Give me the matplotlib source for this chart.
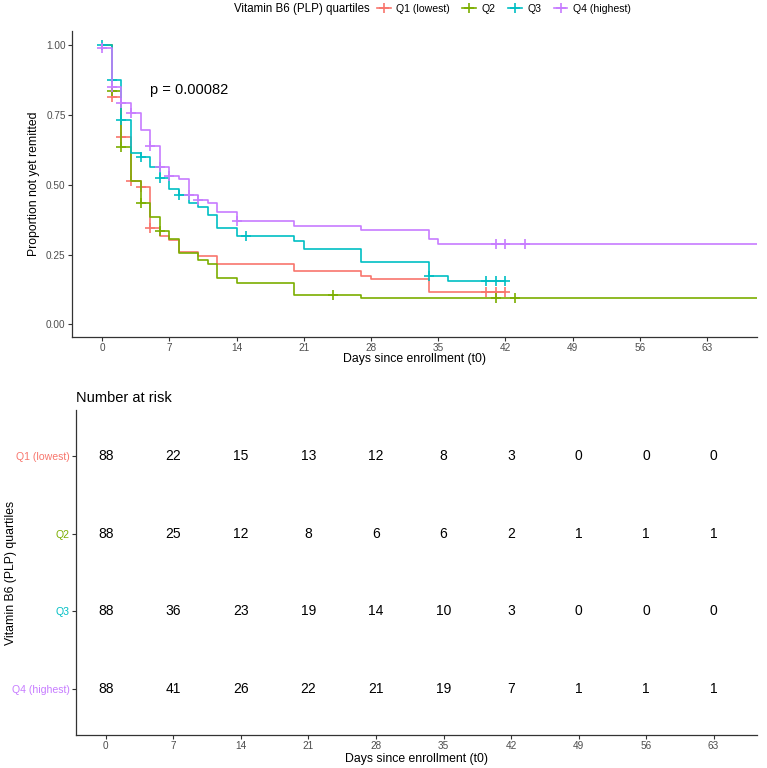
import numpy as np
import matplotlib
matplotlib.use("Agg")
import matplotlib.pyplot as plt
from matplotlib.lines import Line2D

plt.rcParams['font.family'] = ['Liberation Sans', 'DejaVu Sans']

# groups and colours (ggplot default hue)
groups = ['Q1 (lowest)', 'Q2', 'Q3', 'Q4 (highest)']
colors = ['#F8766D', '#7CAE00', '#00BFC4', '#C77CFF']

# Kaplan-Meier steps: event times and survival after each step
q1_times = [1, 2, 3, 4, 5, 6, 7, 8, 10, 12, 20, 27, 28, 34]
q1_surv = [0.813, 0.672, 0.513, 0.493, 0.344, 0.316, 0.302, 0.260, 0.246, 0.218, 0.191, 0.174, 0.162, 0.117]
q1_cens = [1, 2, 3, 4, 5, 40, 41, 42]
q1_end = 42

q2_times = [1, 2, 3, 4, 5, 6, 7, 8, 10, 11, 12, 14, 20, 27]
q2_surv = [0.837, 0.636, 0.514, 0.435, 0.385, 0.335, 0.305, 0.256, 0.230, 0.216, 0.165, 0.149, 0.107, 0.093]
q2_cens = [1, 2, 4, 6, 24, 41, 43]
q2_end = 68.2

q3_times = [1, 2, 3, 4, 5, 6, 7, 8, 9, 10, 11, 12, 14, 20, 21, 27, 34, 36]
q3_surv = [0.875, 0.731, 0.612, 0.600, 0.564, 0.523, 0.483, 0.463, 0.435, 0.419, 0.391, 0.344, 0.316,
           0.300, 0.270, 0.222, 0.173, 0.157]
q3_cens = [0, 1, 2, 4, 6, 8, 15, 34, 40, 41, 42]
q3_end = 42

q4_times = [0, 1, 2, 3, 4, 5, 6, 7, 8, 9, 10, 11, 12, 14, 20, 27, 34, 35]
q4_surv = [0.989, 0.851, 0.793, 0.755, 0.696, 0.638, 0.562, 0.532, 0.519, 0.463, 0.447, 0.433, 0.401,
           0.371, 0.353, 0.338, 0.304, 0.289]
q4_cens = [0, 1, 2, 3, 5, 6, 7, 9, 10, 14, 41, 42, 44]
q4_end = 68.2

p_text = 'p = 0.00082'

# number at risk table
risk_times = [0, 7, 14, 21, 28, 35, 42, 49, 56, 63]
q1_risk = [88, 22, 15, 13, 12, 8, 3, 0, 0, 0]
q2_risk = [88, 25, 12, 8, 6, 6, 2, 1, 1, 1]
q3_risk = [88, 36, 23, 19, 14, 10, 3, 0, 0, 0]
q4_risk = [88, 41, 26, 22, 21, 19, 7, 1, 1, 1]

curves = [
    (q1_times, q1_surv, q1_cens, q1_end),
    (q2_times, q2_surv, q2_cens, q2_end),
    (q3_times, q3_surv, q3_cens, q3_end),
    (q4_times, q4_surv, q4_cens, q4_end),
]
risks = [q1_risk, q2_risk, q3_risk, q4_risk]

tick_grey = '#4D4D4D'
W, H = 767, 768
fig = plt.figure(figsize=(W / 100, H / 100), dpi=100)


def style_axes(ax):
    for s in ['top', 'right']:
        ax.spines[s].set_visible(False)
    for s in ['left', 'bottom']:
        ax.spines[s].set_color('#333333')
        ax.spines[s].set_linewidth(0.9)
    ax.tick_params(length=3, width=0.8, color='#333333', labelsize=7.2, labelcolor=tick_grey, pad=1.5)


# --- survival curves ---
ax = fig.add_axes([72 / W, 1 - 337 / H, (757 - 72) / W, (337 - 31) / H])
for (t, s, c, end), col in zip(curves, colors):
    x = [0] + list(t) + [end]
    y = [1.0] + list(s) + [s[-1]]
    ax.step(x, y, where='post', color=col, lw=1.2)
    idx = np.searchsorted(t, c, side='right') - 1
    cy = np.where(idx < 0, 1.0, np.array(s)[np.clip(idx, 0, None)])
    ax.plot(c, cy, ls='none', marker='+', ms=7, mew=1.2, color=col)

ax.set_xlim(-3.15, 68.2)
ax.set_ylim(-0.045, 1.05)
ax.set_xticks(risk_times)
ax.set_yticks([0, 0.25, 0.5, 0.75, 1.0])
ax.set_yticklabels(['0.00', '0.25', '0.50', '0.75', '1.00'])
style_axes(ax)
ax.set_xlabel('Days since enrollment (t0)', fontsize=8.8, labelpad=0)
ax.set_ylabel('Proportion not yet remitted', fontsize=8.8)
ax.yaxis.set_label_coords(-0.046, 0.5)
ax.text(5, 0.84, p_text, fontsize=10.5, ha='left', va='center')

# legend on top
fig.text(370 / W, 1 - 9 / H, 'Vitamin B6 (PLP) quartiles', fontsize=8.3, ha='right', va='center')
handles = [Line2D([], [], color=col, marker='+', ms=7, mew=1.2, lw=1.2) for col in colors]
fig.legend(handles, groups, loc='center left', bbox_to_anchor=(377 / W, 1 - 9 / H), ncol=4,
           frameon=False, fontsize=7.6, handlelength=1.3, handletextpad=0.5, columnspacing=1.2,
           borderaxespad=0, borderpad=0)

# --- risk table ---
ax2 = fig.add_axes([76 / W, 1 - 735 / H, (757 - 76) / W, (735 - 410) / H])
for i, r in enumerate(risks):
    for t, n in zip(risk_times, r):
        ax2.text(t, i + 1, str(n), ha='center', va='center', fontsize=10)
ax2.set_xlim(-3.1, 67.5)
ax2.set_ylim(4.6, 0.4)
ax2.set_xticks(risk_times)
ax2.set_yticks([1, 2, 3, 4])
ax2.set_yticklabels(groups)
style_axes(ax2)
ax2.tick_params(axis='y', labelsize=7.6)
for lab, col in zip(ax2.get_yticklabels(), colors):
    lab.set_color(col)
ax2.set_xlabel('Days since enrollment (t0)', fontsize=8.8, labelpad=1)
ax2.set_ylabel('Vitamin B6 (PLP) quartiles', fontsize=8.8)
ax2.yaxis.set_label_coords(-0.087, 0.5)
ax2.set_title('Number at risk', loc='left', fontsize=10.5, pad=6)

fig.savefig('out.png', dpi=100)
